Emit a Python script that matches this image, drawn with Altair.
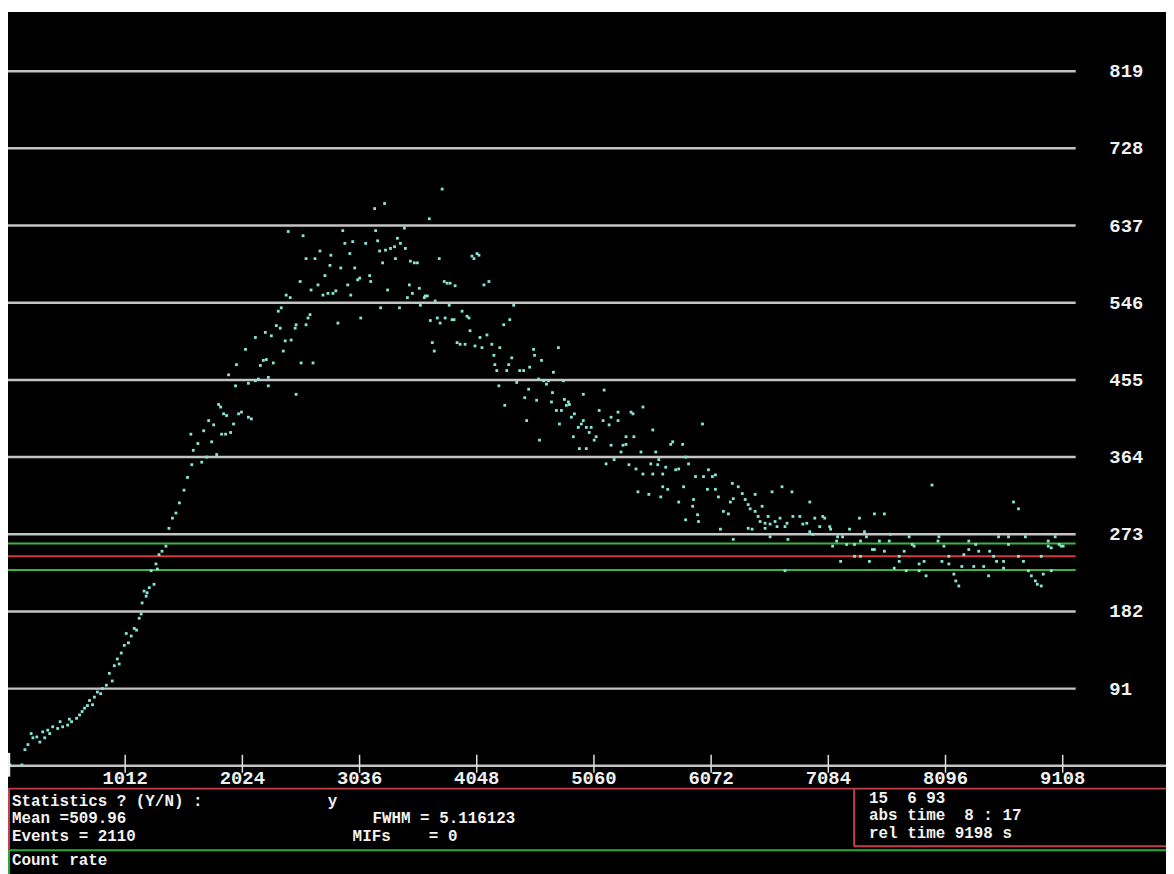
import altair as alt
import pandas as pd

# ---------------- data (time in s, count rate) ----------------
rise_t = [17, 120, 146, 172, 200, 215, 249, 275, 300, 317, 343, 360, 386, 429, 450, 472, 515, 530, 549, 592,
          618, 640, 661, 686, 704, 730, 746, 772, 800, 815, 849, 875, 900, 918, 944, 960, 978, 1004, 1021, 1040,
          1064, 1090, 1110, 1133, 1150, 1158, 1175, 1193, 1201, 1220, 1236, 1261, 1278, 1290, 1304, 1330, 1364,
          1390, 1420, 1450, 1480, 1520, 1550]
rise_c = [1, 1, 19, 25, 38, 33, 34, 28, 40, 33, 42, 38, 46, 44, 52, 46, 48, 55, 52, 56,
          60, 64, 68, 71, 77, 72, 81, 87, 85, 91, 95, 109, 100, 118, 126, 120, 133, 142, 156, 145,
          153, 162, 160, 174, 179, 192, 206, 200, 204, 210, 230, 214, 238, 232, 249, 253, 259,
          280, 292, 298, 310, 325, 340]

mid_t = [1587, 1673, 1716, 1802, 1579, 1733, 1776, 1819, 1836, 1862, 1888, 1879, 1922, 1845, 1759, 1948, 1991,
         2016, 2076, 2102, 1905, 1965, 1973, 2051, 2076, 2136, 2162, 2205, 2231, 2248, 2179, 2136, 2222, 2248,
         2291, 2274, 2317, 2351, 2334, 2360, 2377, 2394, 2445, 2480, 2488, 2531, 2574, 2608, 2591, 2634, 2488,
         1600, 1640, 1690]
mid_c = [355, 358, 364, 367, 391, 407, 402, 426, 423, 415, 413, 391, 393, 391, 382, 403, 415,
         417, 411, 409, 461, 448, 473, 491, 451, 454, 456, 478, 479, 448, 472, 505, 511, 458,
         475, 507, 519, 516, 536, 540, 489, 501, 502, 516, 520, 475, 520, 532, 528, 475, 438,
         372, 380, 395]

peak_t = [2402, 2437, 2420, 2523, 2548, 2574, 2617, 2651, 2677, 2694, 2720, 2737, 2763, 2780, 2788, 2806, 2831,
          2849, 2874, 2891, 2909, 2934, 2952, 2977, 2960, 2994, 3020, 3037, 3046, 3089, 3123, 3132, 3166, 3175,
          3192, 3209, 3218, 3235, 3252, 3260, 3278, 3303, 3338, 3346, 3363, 3381, 3389, 3423, 3432, 3449, 3466,
          3475, 3492, 3509, 3535, 3552, 3561, 3595, 3603, 3621, 3638, 3647, 3664, 3681, 3689, 3707, 3724, 3732,
          3749, 3767, 3775, 3792, 3810, 3818, 3835, 3852, 3861, 3878, 3904, 3921, 3947, 3964, 3981, 3990, 4007,
          4024, 4050, 4033, 4067, 4076, 4093, 4110, 4136, 4153, 4178, 4196, 4204, 4221, 4239, 4247, 4281, 4290,
          4307, 4324, 4333, 4350, 4367, 4393, 4419, 4453, 4462, 4479, 4496, 4505, 4539, 4547, 4565, 4582, 4590,
          4607, 4625]
peak_c = [555, 552, 630, 571, 625, 598, 561, 598, 567, 607, 555, 578, 557, 590, 602, 557, 560,
          522, 587, 631, 616, 567, 604, 618, 555, 587, 573, 575, 528, 616, 578, 571, 657, 631,
          619, 607, 540, 593, 663, 608, 561, 610, 612, 598, 622, 540, 616, 634, 610, 552, 567,
          595, 557, 593, 593, 563, 543, 552, 554, 554, 645, 525, 499, 489, 548, 528, 598, 522,
          680, 571, 528, 569, 543, 569, 526, 526, 566, 499, 497, 536, 497, 530, 528, 513, 601,
          598, 604, 495, 602, 505, 493, 567, 508, 571, 497, 484, 473, 466, 448, 493, 520, 425,
          466, 473, 526, 481, 543, 452, 466, 466, 434, 407, 444, 470, 491, 484, 431, 456, 384,
          478, 454]

fall_t = [4753, 4710, 4668, 4650, 4796, 4693, 4805, 4839, 5148, 4968, 4736, 4779, 4822, 4848, 5105, 5268, 5380,
          5483, 5397, 4891, 4951, 4762, 4968, 4994, 5019, 5079, 5139, 5191, 5268, 5337, 5405, 4925, 5997, 4882,
          4934, 4994, 5062, 5208, 5311, 5337, 5568, 5723, 5740, 5826, 5165, 5234, 5362, 5423, 5483, 5551, 5611,
          5620, 5568, 5654, 5766, 5792, 5877, 5834, 5440, 5534, 5637, 5654, 5697, 5792, 5920, 6006, 6049, 6083,
          6040, 5852, 5955, 5963, 5912, 6109, 6135, 6178, 6221, 6263, 6255, 6306, 6341, 6366, 6392, 6409, 6452,
          6478, 6512, 6538, 6564, 6598, 6624, 6667, 6684, 6727, 6770, 6778, 6152, 6263, 6392, 6426, 6538, 6581,
          6641, 6735,
          4702, 4865, 5036, 5208, 5294, 5466, 5594, 5680, 5937, 5852, 6109, 6238, 6452, 6581, 6710, 6495]
fall_c = [493, 464, 454, 450, 454, 429, 432, 429, 443, 438, 419, 419, 425, 426, 419, 417, 417,
          423, 415, 415, 403, 403, 407, 399, 393, 388, 407, 402, 407, 388, 388, 399, 403, 388,
          374, 374, 384, 378, 378, 379, 396, 379, 382, 379, 356, 361, 355, 350, 344, 356, 355,
          361, 344, 344, 349, 350, 356, 329, 323, 320, 317, 329, 326, 311, 314, 341, 349, 341,
          326, 290, 296, 288, 306, 326, 317, 300, 297, 315, 333, 329, 321, 314, 308, 303, 320,
          294, 306, 286, 294, 323, 288, 292, 329, 286, 323, 294, 279, 267, 280, 279, 280, 285,
          282, 267,
          440, 411, 399, 411, 370, 370, 370, 352, 341, 364, 343, 311, 300, 270, 282, 288]

tail_t = [6838, 6898, 6950, 7010, 7053, 7104, 7156, 7207, 6924, 7267, 7310, 7362, 7413, 7465, 7525, 7568, 7619,
          7482, 7353, 7696, 7756, 7808, 7868, 7928, 7979, 8031, 8065, 8125, 8185, 8237, 8297, 8357, 8426, 8477,
          8537, 8597, 8640, 8683, 8726, 8769, 8812, 8872, 8923, 8983, 9043, 9095, 8940, 9009, 6710,
          6967, 7036, 7164, 7242, 7190, 7310, 7362, 7482, 7568, 7696, 7825, 7868, 8039, 8125, 8168, 8211, 8340,
          8383, 8511, 8554, 8640, 8786, 8837, 8889, 8983, 9077, 9112, 6864, 6924, 7096, 7121, 7396, 7439, 7610,
          7653, 7739, 7782, 7911, 8082, 8254, 8297, 8468, 8597, 8726, 8923, 9009]
tail_c = [294, 286, 273, 282, 292, 279, 265, 270, 311, 279, 261, 247, 270, 255, 265, 253, 273,
          297, 292, 247, 230, 261, 238, 224, 331, 265, 241, 238, 218, 235, 255, 261, 235, 253,
          241, 233, 270, 311, 303, 241, 230, 218, 212, 265, 270, 259, 226, 257, 230,
          292, 294, 270, 261, 241, 247, 265, 255, 297, 241, 259, 230, 270, 247, 226, 212, 235,
          253, 247, 270, 261, 270, 224, 214, 259, 261, 259, 285, 276, 282, 259, 276, 241, 265,
          233, 253, 270, 241, 259, 249, 265, 224, 241, 247, 247, 230]

grid_values = [91, 182, 273, 364, 455, 546, 637, 728, 819]
x_ticks = [1012, 2024, 3036, 4048, 5060, 6072, 7084, 8096, 9108]
limit_values = [262, 247, 231]
limit_colors = ["#3cb43c", "#d23c3c", "#3cb43c"]

# ---------------- tables ----------------
points = pd.DataFrame({
    "t": rise_t + mid_t + peak_t + fall_t + tail_t,
    "c": rise_c + mid_c + peak_c + fall_c + tail_c,
})
grid = pd.DataFrame({"y": grid_values, "x0": 0, "x1": 9220, "lab": [str(v) for v in grid_values], "lx": 9511})
limits = pd.DataFrame({"y": limit_values, "col": limit_colors, "x0": 0, "x1": 9220})
ticks = pd.DataFrame({"x": x_ticks, "lab": [str(v) for v in x_ticks], "y0": 12.9, "y1": -8.2, "ly": -14})
axis_df = pd.DataFrame({"x0": [0], "x1": [10000], "y": [0]})
dummy = pd.DataFrame({"d": [0]})

XS = alt.Scale(domain=[0, 10000], nice=False, zero=False)
YS = alt.Scale(domain=[-132.3, 888.8], nice=False, zero=False)
FONT = "Liberation Mono"
NB = "\u00a0"

gridlines = alt.Chart(grid).mark_rule(color="#c4c4c4", strokeWidth=2.5).encode(
    x=alt.X("x0:Q", scale=XS, axis=None), x2="x1:Q", y=alt.Y("y:Q", scale=YS, axis=None))
ylabels = alt.Chart(grid).mark_text(align="left", baseline="middle", font=FONT, fontSize=19,
                                    fontWeight="bold", color="#f0f0f0").encode(
    x=alt.X("lx:Q", scale=XS, axis=None), y=alt.Y("y:Q", scale=YS, axis=None), text="lab:N")
limit_lines = alt.Chart(limits).mark_rule(strokeWidth=2).encode(
    x=alt.X("x0:Q", scale=XS, axis=None), x2="x1:Q", y=alt.Y("y:Q", scale=YS, axis=None),
    color=alt.Color("col:N", scale=None, legend=None))
axis_line = alt.Chart(axis_df).mark_rule(color="#c4c4c4", strokeWidth=2.5).encode(
    x=alt.X("x0:Q", scale=XS, axis=None), x2="x1:Q", y=alt.Y("y:Q", scale=YS, axis=None))
tick_marks = alt.Chart(ticks).mark_rule(color="#e0e0e0", strokeWidth=1.5).encode(
    x=alt.X("x:Q", scale=XS, axis=None), y=alt.Y("y0:Q", scale=YS, axis=None), y2="y1:Q")
xlabels = alt.Chart(ticks).mark_text(align="center", baseline="middle", font=FONT, fontSize=19,
                                     fontWeight="bold", color="#f0f0f0").encode(
    x=alt.X("x:Q", scale=XS, axis=None), y=alt.Y("ly:Q", scale=YS, axis=None), text="lab:N")
dots = alt.Chart(points).mark_square(size=8, color="#86e6d6", opacity=1).encode(
    x=alt.X("t:Q", scale=XS, axis=None), y=alt.Y("c:Q", scale=YS, axis=None))

# ---------------- bottom status panel (pixel positions in plot area) ----------------
def hline(x0, x1, y, color, w=2):
    return alt.Chart(dummy).mark_rule(color=color, strokeWidth=w).encode(
        x=alt.value(x0), x2=alt.value(x1), y=alt.value(y))

def vline(x, y0, y1, color, w=2):
    return alt.Chart(dummy).mark_rule(color=color, strokeWidth=w).encode(
        x=alt.value(x), y=alt.value(y0), y2=alt.value(y1))

def label(txt, x, y):
    return alt.Chart(dummy).mark_text(align="left", baseline="middle", font=FONT, fontSize=16,
                                      fontWeight="bold", color="#f2f2f2").encode(
        x=alt.value(x), y=alt.value(y), text=alt.value(txt))

RED = "#c0404c"
GREEN = "#2ea836"
panel = [
    vline(1, 746, 770, "#f0f0f0", 2.5),
    hline(0, 1166, 782, RED),
    vline(1, 782, 843, RED),
    vline(852, 782, 840, RED),
    hline(852, 1166, 840, RED),
    hline(0, 1166, 844, GREEN),
    vline(1, 844, 872, GREEN),
    label("Statistics ? (Y/N) :", 4, 794),
    label("y", 322, 794),
    label("Mean =509.96", 4, 812),
    label("FWHM = 5.116123", 367, 812),
    label("Events = 2110", 4, 830),
    label(f"MIFs{NB * 4}= 0", 347, 830),
    label("Count rate", 4, 854),
    label(f"15{NB * 2}6 93", 867, 791),
    label(f"abs time{NB * 2}8 : 17", 867, 809),
    label("rel time 9198 s", 867, 827),
]

chart = alt.layer(gridlines, limit_lines, axis_line, tick_marks, dots, ylabels, xlabels, *panel).properties(
    width=1166, height=872,
    autosize=alt.AutoSizeParams(type="none"),
    padding={"left": 0, "top": 1, "right": 0, "bottom": 0},
    background="white",
).configure_view(fill="black", stroke=None)

chart.save("out.html", embed_options={"renderer": "svg", "actions": False})
